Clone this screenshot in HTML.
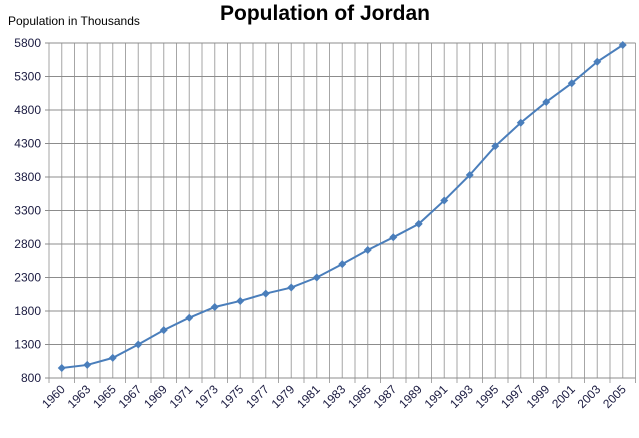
<!DOCTYPE html>
<html><head><meta charset="utf-8"><style>
body{margin:0;background:#fff;font-family:"Liberation Sans",sans-serif;}
svg text{font-family:"Liberation Sans",sans-serif;}
</style></head><body>
<svg id="chart" width="639" height="433" xmlns="http://www.w3.org/2000/svg">
<text x="325" y="20" text-anchor="middle" font-size="21" font-weight="bold" fill="#000">Population of Jordan</text>
<text x="8" y="25" font-size="12" fill="#000">Population in Thousands</text>
<g id="grid"></g><g id="axes"></g><g id="series"></g>
</svg>
<script>
const years = ["1960","1963","1965","1967","1969","1971","1973","1975","1977","1979","1981","1983","1985","1987","1989","1991","1993","1995","1997","1999","2001","2003","2005"];
const population = [950,995,1100,1300,1515,1700,1860,1950,2060,2150,2300,2500,2710,2900,3100,3450,3830,4260,4610,4920,5200,5520,5770];
const yTicks = [800,1300,1800,2300,2800,3300,3800,4300,4800,5300,5800];
const NS="http://www.w3.org/2000/svg";
const L=49,R=635.5,T=43,B=378,yMin=800,yMax=5800;
const bw=(R-L)/years.length;
const xs=i=>L+bw*(i+0.5);
const ys=v=>B-(v-yMin)/(yMax-yMin)*(B-T);
function mk(tag,attrs,parent){const e=document.createElementNS(NS,tag);for(const k in attrs)e.setAttribute(k,attrs[k]);parent.appendChild(e);return e;}
const grid=document.getElementById('grid'),axes=document.getElementById('axes'),ser=document.getElementById('series');
for(let j=0;j<=years.length*2;j++){const x=L+j*bw/2;
 const g=mk('line',{x1:x,x2:x,y1:T,y2:B+(j%2==0?5:0),stroke:'#a6a6a6','stroke-width':1},grid);
 
 }
yTicks.forEach(v=>{const y=ys(v);
 const g=mk('line',{x1:L-4,x2:R,y1:y,y2:y,stroke:'#8c8c8c','stroke-width':1},grid);
 
 
 const t=mk('text',{x:L-8,y:y+4,'text-anchor':'end','font-size':12,fill:'#1a1a40'},axes);t.textContent=v;
 
 });
years.forEach((yr,i)=>{const x=xs(i);
 const t=mk('text',{x:x+4,y:B+12,'text-anchor':'end','font-size':12,fill:'#1a1a40',transform:`rotate(-45 ${x+4} ${B+12})`},axes);t.textContent=yr;
 
 });
const pl=mk('polyline',{points:population.map((v,i)=>xs(i)+','+ys(v)).join(' '),fill:'none',stroke:'#4a7ebb','stroke-width':2},ser);


population.forEach((v,i)=>{const x=xs(i),y=ys(v);
 const m=mk('polygon',{points:`${x},${y-4} ${x+4},${y} ${x},${y+4} ${x-4},${y}`,fill:'#4a7ebb'},ser);
 
 });
</script>
</body></html>
